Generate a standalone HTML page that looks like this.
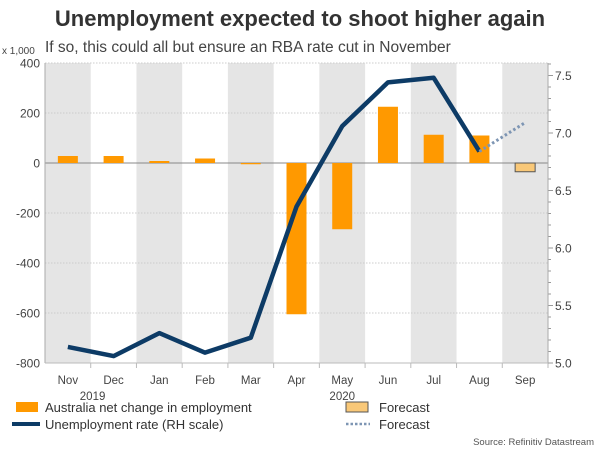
<!DOCTYPE html>
<html><head><meta charset="utf-8"><style>
body{margin:0;background:#fff;font-family:"Liberation Sans",sans-serif}
svg text{font-family:"Liberation Sans",sans-serif}
</style></head><body>
<svg id="c" width="600" height="450" xmlns="http://www.w3.org/2000/svg">
<text x="300" y="26" text-anchor="middle" font-size="22" font-weight="bold" fill="#333">Unemployment expected to shoot higher again</text>
<text x="45" y="52" font-size="15.5" fill="#444">If so, this could all but ensure an RBA rate cut in November</text>
<text x="2" y="54" font-size="10" fill="#444">x 1,000</text>
<g id="bands"></g><g id="grid"></g><g id="bars"></g><g id="lines"></g><g id="axes"></g>
<g>
<rect x="16" y="402" width="22" height="10" fill="#ff9900"/>
<text x="45" y="412" font-size="13" fill="#333">Australia net change in employment</text>
<rect x="346" y="402" width="22" height="10" fill="#f9c878" stroke="#555" stroke-width="1"/>
<text x="379" y="412" font-size="13" fill="#333">Forecast</text>
<line x1="12" y1="424" x2="40" y2="424" stroke="#0d3b66" stroke-width="4"/>
<text x="45" y="429" font-size="13" fill="#333">Unemployment rate (RH scale)</text>
<line x1="346" y1="424" x2="370" y2="424" stroke="#7d95b3" stroke-width="2.5" stroke-dasharray="2.5,2"/>
<text x="379" y="429" font-size="13" fill="#333">Forecast</text>
</g>
<text x="594" y="445" text-anchor="end" font-size="9.5" fill="#555">Source: Refinitiv Datastream</text>
</svg>
<script>
const months=["Nov","Dec","Jan","Feb","Mar","Apr","May","Jun","Jul","Aug","Sep"];
const employment=[28,28,8,18,-5,-605,-265,225,113,110,null];
const employmentForecast=[null,null,null,null,null,null,null,null,null,null,-35];
const rate=[5.14,5.06,5.26,5.09,5.22,6.36,7.06,7.44,7.48,6.84,null];
const rateForecast=[null,null,null,null,null,null,null,null,null,6.84,7.09];
const leftTicks=[400,200,0,-200,-400,-600,-800];
const rightTicks=[5.0,5.5,6.0,6.5,7.0,7.5];
const NS="http://www.w3.org/2000/svg";
const X0=45,X1=548,Y0=63,Y1=363,W=(X1-X0)/months.length;
const xc=i=>X0+W*(i+0.5);
const yL=v=>Y0+(400-v)/1200*(Y1-Y0);
const yR=v=>Y1-(v-5)*115;
function mk(p,t,a){const e=document.createElementNS(NS,t);for(const k in a)e.setAttribute(k,a[k]);document.getElementById(p).appendChild(e);return e;}
months.forEach((m,i)=>{if(i%2==0){const r=mk("bands","rect",{x:X0+W*i,y:Y0,width:W,height:Y1-Y0,fill:"#e5e5e5"});

}
const t=mk("axes","text",{x:xc(i),y:384,"text-anchor":"middle","font-size":"11.5","fill":"#444"});t.textContent=m;


const tk=mk("axes","line",{x1:X0+W*(i+1),x2:X0+W*(i+1),y1:Y1,y2:Y1+5,stroke:"#bbb"});

});
[["2019",1],["2020",6]].forEach(([s,i])=>{const t=mk("axes","text",{x:xc(i)-(i==1?21:0),y:400,"text-anchor":"middle","font-size":"11.5","fill":"#444"});t.textContent=s;

});
leftTicks.forEach(v=>{if(v!=0&&v!=-800){const g=mk("grid","line",{x1:X0,x2:X1,y1:yL(v),y2:yL(v),stroke:"#ccc","stroke-dasharray":"1.5,1.5"});

}
const t=mk("axes","text",{x:40,y:yL(v)+4.5,"text-anchor":"end","font-size":"12","fill":"#444"});t.textContent=v;

});
rightTicks.forEach(v=>{const t=mk("axes","text",{x:555,y:yR(v)+4.5,"font-size":"12","fill":"#444"});t.textContent=v.toFixed(1);

});
for(let v=5;v<=7.6;v+=0.1){const l=mk("axes","line",{x1:X1,x2:X1+(Math.abs(v*2-Math.round(v*2))<0.01?5:3),y1:yR(v),y2:yR(v),stroke:"#999"});

}
[["left-axis-line",X0],["right-axis-line",X1]].forEach(([n,x])=>{const l=mk("axes","line",{x1:x,x2:x,y1:Y0,y2:Y1,stroke:"#aaa"});

});
const bl=mk("axes","line",{x1:X0,x2:X1,y1:Y1,y2:Y1,stroke:"#bbb"});


const z=mk("grid","line",{x1:X0,x2:X1,y1:yL(0),y2:yL(0),stroke:"#888"});


function bar(v,i,fc,forecast){if(v==null)return;const y=Math.min(yL(v),yL(0)),h=Math.max(Math.abs(yL(v)-yL(0)),1);
const r=mk("bars","rect",{x:xc(i)-10,y:y,width:20,height:h,fill:fc,stroke:forecast?"#555":"none","stroke-width":forecast?1:0});

}
employment.forEach((v,i)=>bar(v,i,"#ff9900",false));
employmentForecast.forEach((v,i)=>bar(v,i,"#f9c878",true));
function pts(a){return a.map((v,i)=>v==null?null:xc(i)+","+yR(v)).filter(p=>p).join(" ");}
const rl=mk("lines","polyline",{points:pts(rate),fill:"none",stroke:"#0d3b66","stroke-width":4.5,"stroke-linejoin":"round"});


const fl=mk("lines","polyline",{points:pts(rateForecast),fill:"none",stroke:"#7d95b3","stroke-width":3,"stroke-dasharray":"2.5,2.5"});


</script>
</body></html>
